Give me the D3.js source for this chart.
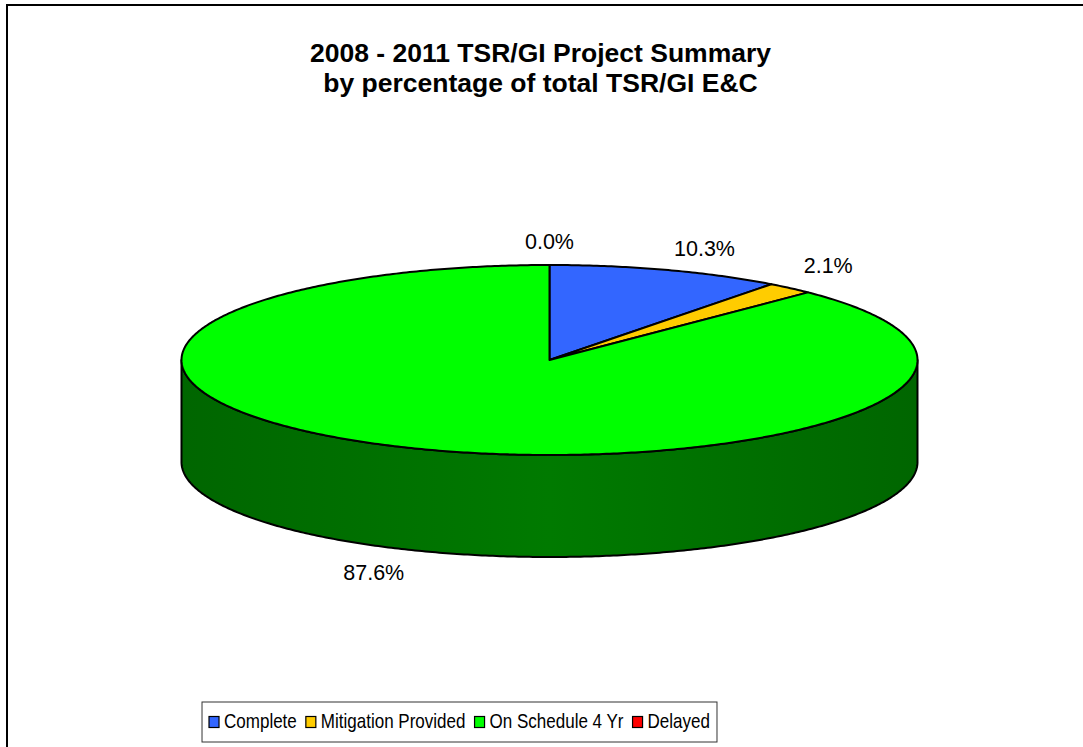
<!DOCTYPE html>
<html>
<head>
<meta charset="utf-8">
<script src="https://cdn.jsdelivr.net/npm/d3@7"></script>
<style>
  html, body { margin: 0; padding: 0; background: #fff; }
  svg { display: block; font-family: "Liberation Sans", Arial, sans-serif; }
</style>
</head>
<body>
<svg id="chart" width="1083" height="747"></svg>
<script>
// ---- data ----
const categories = ["Complete", "Mitigation Provided", "On Schedule 4 Yr", "Delayed"];
const values = [10.3, 2.1, 87.6, 0.0];
const valueLabels = ["10.3%", "2.1%", "87.6%", "0.0%"];
const topColors = ["#3366FF", "#FFCC00", "#00FF00", "#FF0000"];
const sideEdgeColors = ["#1A3399", "#997700", "#006600", "#990000"];
const sideMidColors = ["#2244BB", "#BB9900", "#007A00", "#BB0000"];
const titleLines = ["2008 - 2011 TSR/GI Project Summary", "by percentage of total TSR/GI E&C"];

// ---- layout ----
const W = 1083, H = 747;
const svg = d3.select("#chart");
const cx = 549.5, cy = 360, rx = 368, ry = 95, depth = 102;

// outer chart border (clipped by the window on right/bottom)
svg.append("rect").attr("x", 7).attr("y", 5).attr("width", W + 20).attr("height", H + 20)
  .attr("fill", "#fff").attr("stroke", "#000").attr("stroke-width", 2);

// title
svg.append("g").selectAll("text").data(titleLines).join("text")
  .attr("x", 540.5).attr("y", (d, i) => 62 + i * 30)
  .attr("text-anchor", "middle").attr("font-size", 26.5).attr("font-weight", "bold")
  .attr("fill", "#000").text(d => d);

// pie layout
const pie = d3.pie().sort(null).value(d => d)(values);
const pt = (a, dz) => [cx + rx * Math.sin(a), cy - ry * Math.cos(a) + dz];
const arcPts = (a0, a1, dz) => {
  const n = Math.max(2, Math.ceil(Math.abs(a1 - a0) / 0.01));
  return d3.range(n + 1).map(i => pt(a0 + (a1 - a0) * i / n, dz));
};
const line = d3.line();

// side shading gradients
const defs = svg.append("defs");
sideEdgeColors.forEach((c, i) => {
  const g = defs.append("linearGradient").attr("id", "side" + i)
    .attr("gradientUnits", "userSpaceOnUse")
    .attr("x1", cx - rx).attr("x2", cx + rx).attr("y1", 0).attr("y2", 0);
  g.append("stop").attr("offset", 0).attr("stop-color", c);
  g.append("stop").attr("offset", 0.5).attr("stop-color", sideMidColors[i]);
  g.append("stop").attr("offset", 1).attr("stop-color", c);
});

// side walls (front half: angles between PI/2 and 3PI/2)
const walls = svg.append("g");
pie.forEach((d, i) => {
  const a0 = Math.max(d.startAngle, Math.PI / 2);
  const a1 = Math.min(d.endAngle, 3 * Math.PI / 2);
  if (a1 <= a0) return;
  const pts = arcPts(a0, a1, 0).concat(arcPts(a1, a0, depth));
  walls.append("path").attr("d", line(pts) + "Z")
    .attr("fill", `url(#side${i})`).attr("stroke", "#000").attr("stroke-width", 2)
    .attr("stroke-linejoin", "round");
});

// top faces
const tops = svg.append("g");
pie.forEach((d, i) => {
  if (d.endAngle - d.startAngle <= 0) return;
  const pts = [[cx, cy]].concat(arcPts(d.startAngle, d.endAngle, 0));
  tops.append("path").attr("d", line(pts) + "Z")
    .attr("fill", topColors[i]).attr("stroke", "#000").attr("stroke-width", 2)
    .attr("stroke-linejoin", "round");
});

// data labels
const labelNudge = [[38, -14], [38, -15], [-36, 30], [0, -16]];
const labels = svg.append("g");
pie.forEach((d, i) => {
  const mid = (d.startAngle + d.endAngle) / 2;
  const front = Math.cos(mid) < 0;
  const p = pt(mid, front ? depth : 0);
  labels.append("text")
    .attr("x", p[0] + labelNudge[i][0]).attr("y", p[1] + labelNudge[i][1])
    .attr("text-anchor", "middle").attr("font-size", 21.5).attr("fill", "#000")
    .text(valueLabels[i]);
});

// legend
const legend = svg.append("g");
const lgFont = 20.5, lgScale = 0.83, markerW = 10, markerH = 11, gapMT = 5, gapItem = 9;
const items = legend.selectAll("g.item").data(categories).join("g").attr("class", "item");
items.append("rect").attr("width", markerW).attr("height", markerH)
  .attr("fill", (d, i) => topColors[i]).attr("stroke", "#000").attr("stroke-width", 1.2);
const texts = items.append("text").attr("font-size", lgFont).attr("fill", "#000").text(d => d);
const widths = texts.nodes().map(n => n.getComputedTextLength() * lgScale);
const total = d3.sum(widths) + categories.length * (markerW + gapMT) + (categories.length - 1) * gapItem;
const padX = 7;
const boxW = total + 2 * padX, boxX = 459.5 - boxW / 2, boxY = 702, boxH = 40;
legend.insert("rect", ":first-child").attr("x", boxX).attr("y", boxY).attr("width", boxW).attr("height", boxH)
  .attr("fill", "#fff").attr("stroke", "#333").attr("stroke-width", 1);
let x = boxX + padX;
items.each(function(d, i) {
  const g = d3.select(this);
  g.select("rect").attr("x", x).attr("y", 716.5);
  g.select("text").attr("transform", `translate(${x + markerW + gapMT},728) scale(${lgScale},1)`);
  x += markerW + gapMT + widths[i] + gapItem;
});
</script>
</body>
</html>
